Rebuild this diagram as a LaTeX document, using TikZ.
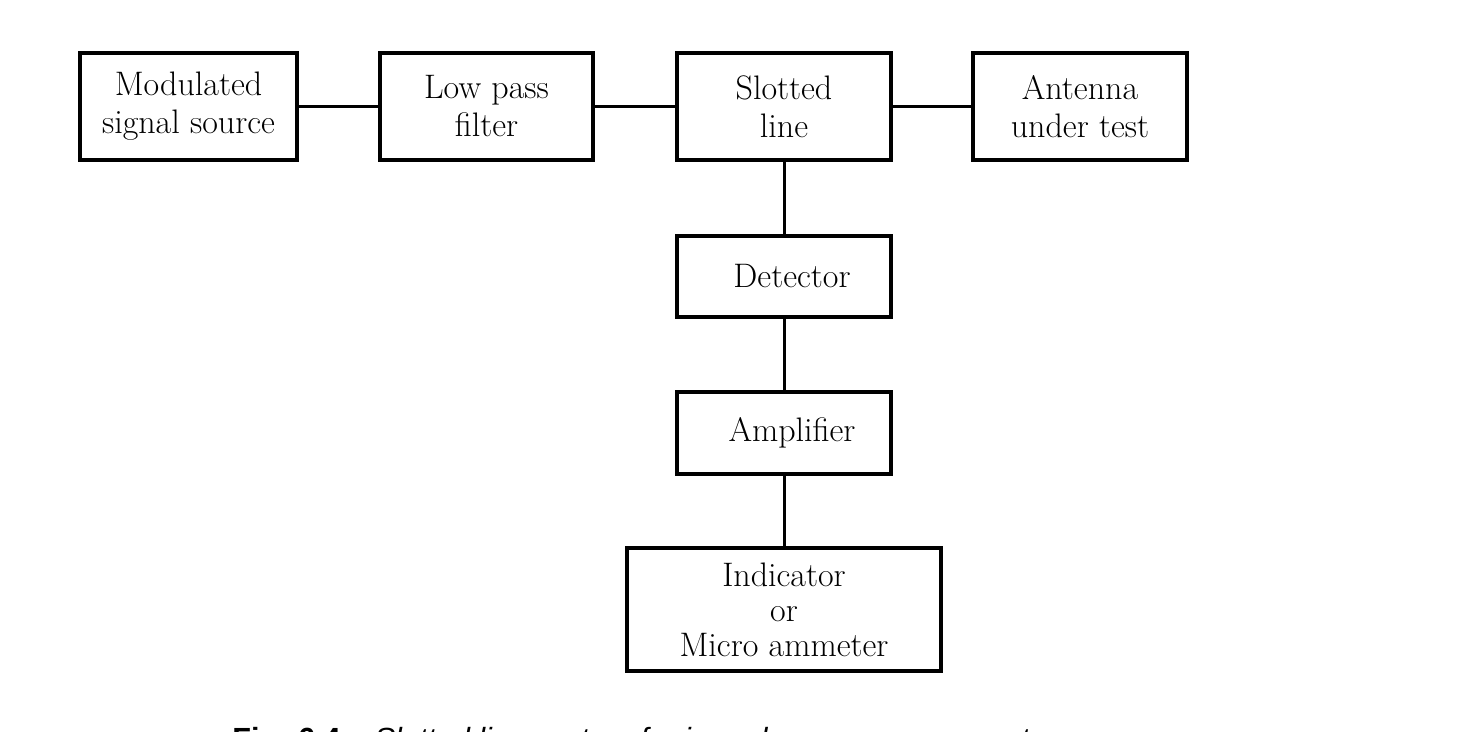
\documentclass[tikz,border=0pt]{standalone}
\usepackage{fontspec}
\newfontfamily\capfont{Liberation Sans}
\begin{document}
\begin{tikzpicture}[x=0.5pt,y=-0.5pt,
  blk/.style={draw=black,line width=2pt,inner sep=0pt,outer sep=0pt,align=center,
    font=\fontsize{17pt}{19pt}\selectfont},
  wire/.style={draw=black,line width=1.5pt}]
\useasboundingbox (0,0) rectangle (1474,732);
\clip (0,0) rectangle (1474,732);
\node[blk,minimum width=108.5pt,minimum height=53.5pt] (src) at (188.5,106.5) {Modulated\\signal source};
\node[blk,minimum width=106.5pt,minimum height=53.5pt] (lpf) at (486.5,106.5) {Low pass\\filter};
\node[blk,minimum width=107pt,minimum height=53.5pt] (sl) at (784,106.5) {Slotted\\line};
\node[blk,minimum width=107pt,minimum height=53.5pt] (ant) at (1080,106.5) {Antenna\\under test};
\node[blk,minimum width=107pt,minimum height=40.5pt] (det) at (784,276.5) {\hspace*{8pt}Detector};
\node[blk,minimum width=107pt,minimum height=41pt] (amp) at (784,433) {\hspace*{8pt}Amplifier};
\node[blk,minimum width=157pt,minimum height=61.5pt,font=\fontsize{17pt}{17.5pt}\selectfont] (ind) at (784,609.5) {Indicator\\or\\Micro ammeter};
\draw[wire] (src) -- (lpf);
\draw[wire] (lpf) -- (sl);
\draw[wire] (sl) -- (ant);
\draw[wire] (sl) -- (det);
\draw[wire] (det) -- (amp);
\draw[wire] (amp) -- (ind);
\node[anchor=base west,inner sep=0pt,font=\capfont\fontsize{15.3pt}{18pt}\selectfont] (cap) at (232,749)
  {\textbf{Fig. 6.4}\hspace{17pt}\textit{Slotted line system for impedance measurement}};
\end{tikzpicture}
\end{document}
